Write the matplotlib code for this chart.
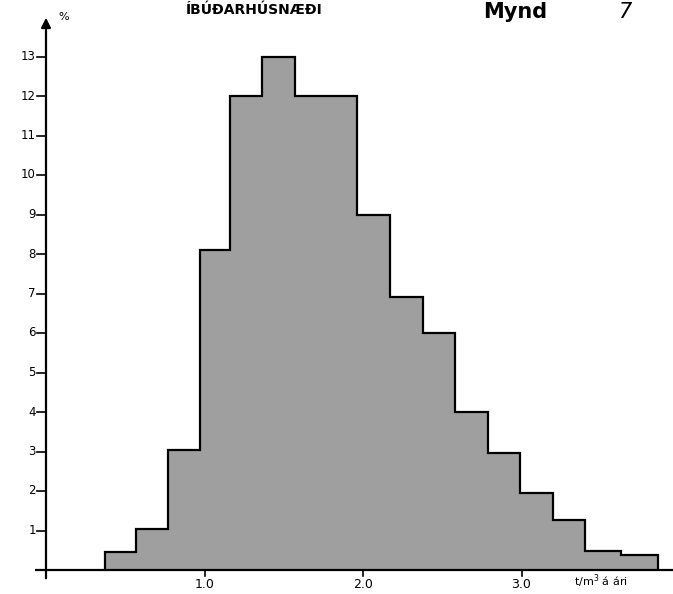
import numpy as np
import matplotlib.pyplot as plt

# bin edges (t/m3 a ari) og hlutfall (%) lesid af myndinni
edges = [0.37, 0.57, 0.77, 0.97, 1.16, 1.36, 1.57, 1.76, 1.96, 2.17, 2.38, 2.58, 2.79, 2.99, 3.2, 3.4, 3.63, 3.86]
hlutfall = [0.45, 1.05, 3.05, 8.1, 12.0, 13.0, 12.0, 12.0, 9.0, 6.9, 6.0, 4.0, 2.95, 1.95, 1.27, 0.47, 0.37]
y_ticks = [1, 2, 3, 4, 5, 6, 7, 8, 9, 10, 11, 12, 13]
x_ticks = [1.0, 2.0, 3.0]
x_labels = ["1.0", "2.0", "3.0"]

fig = plt.figure(figsize=(6.73, 5.94), dpi=100)
ax = fig.add_axes([0, 0, 1, 1])
ax.set_xlim(-46 / 158.5, (673 - 46) / 158.5)
ax.set_ylim(-24 / 39.5, (594 - 24) / 39.5)
ax.axis("off")

# stuplarit
ax.stairs(hlutfall, edges, fill=True, facecolor="#9f9f9f", edgecolor="none", baseline=0)
ax.stairs(hlutfall, edges, color="black", linewidth=1.6, baseline=0)

# asar
ax.plot([-0.07, 3.96], [0, 0], color="black", linewidth=1.6, solid_capstyle="butt")
ax.annotate("", xy=(0, 14.05), xytext=(0, -0.28),
            arrowprops=dict(arrowstyle="-|>", color="black", lw=1.6, mutation_scale=14))

for t in y_ticks:
    ax.plot([-0.055, 0], [t, t], color="black", linewidth=1.2)
    ax.text(-0.065, t, str(t), ha="right", va="center", fontsize=8.5)

for t, lab in zip(x_ticks, x_labels):
    ax.plot([t, t], [0, -0.15], color="black", linewidth=1.2)
    ax.text(t, -0.36, lab, ha="center", va="center", fontsize=9)

ax.text(0.08, 14.0, "%", ha="left", va="center", fontsize=8)
ax.text(3.5, -0.28, "t/m$^3$ á ári", ha="center", va="center", fontsize=8)

# titlar efst
fig.text(254 / 673, 1 - 14 / 594, "ÍBÚÐARHÚSNÆÐI", ha="center", va="baseline",
         fontsize=10, fontweight="bold")
fig.text(515 / 673, 1 - 18 / 594, "Mynd", ha="center", va="baseline", fontsize=15, fontweight="bold")
fig.text(625 / 673, 1 - 18 / 594, "7", ha="center", va="baseline", fontsize=15, style="italic")

fig.savefig("out.png", dpi=100)
